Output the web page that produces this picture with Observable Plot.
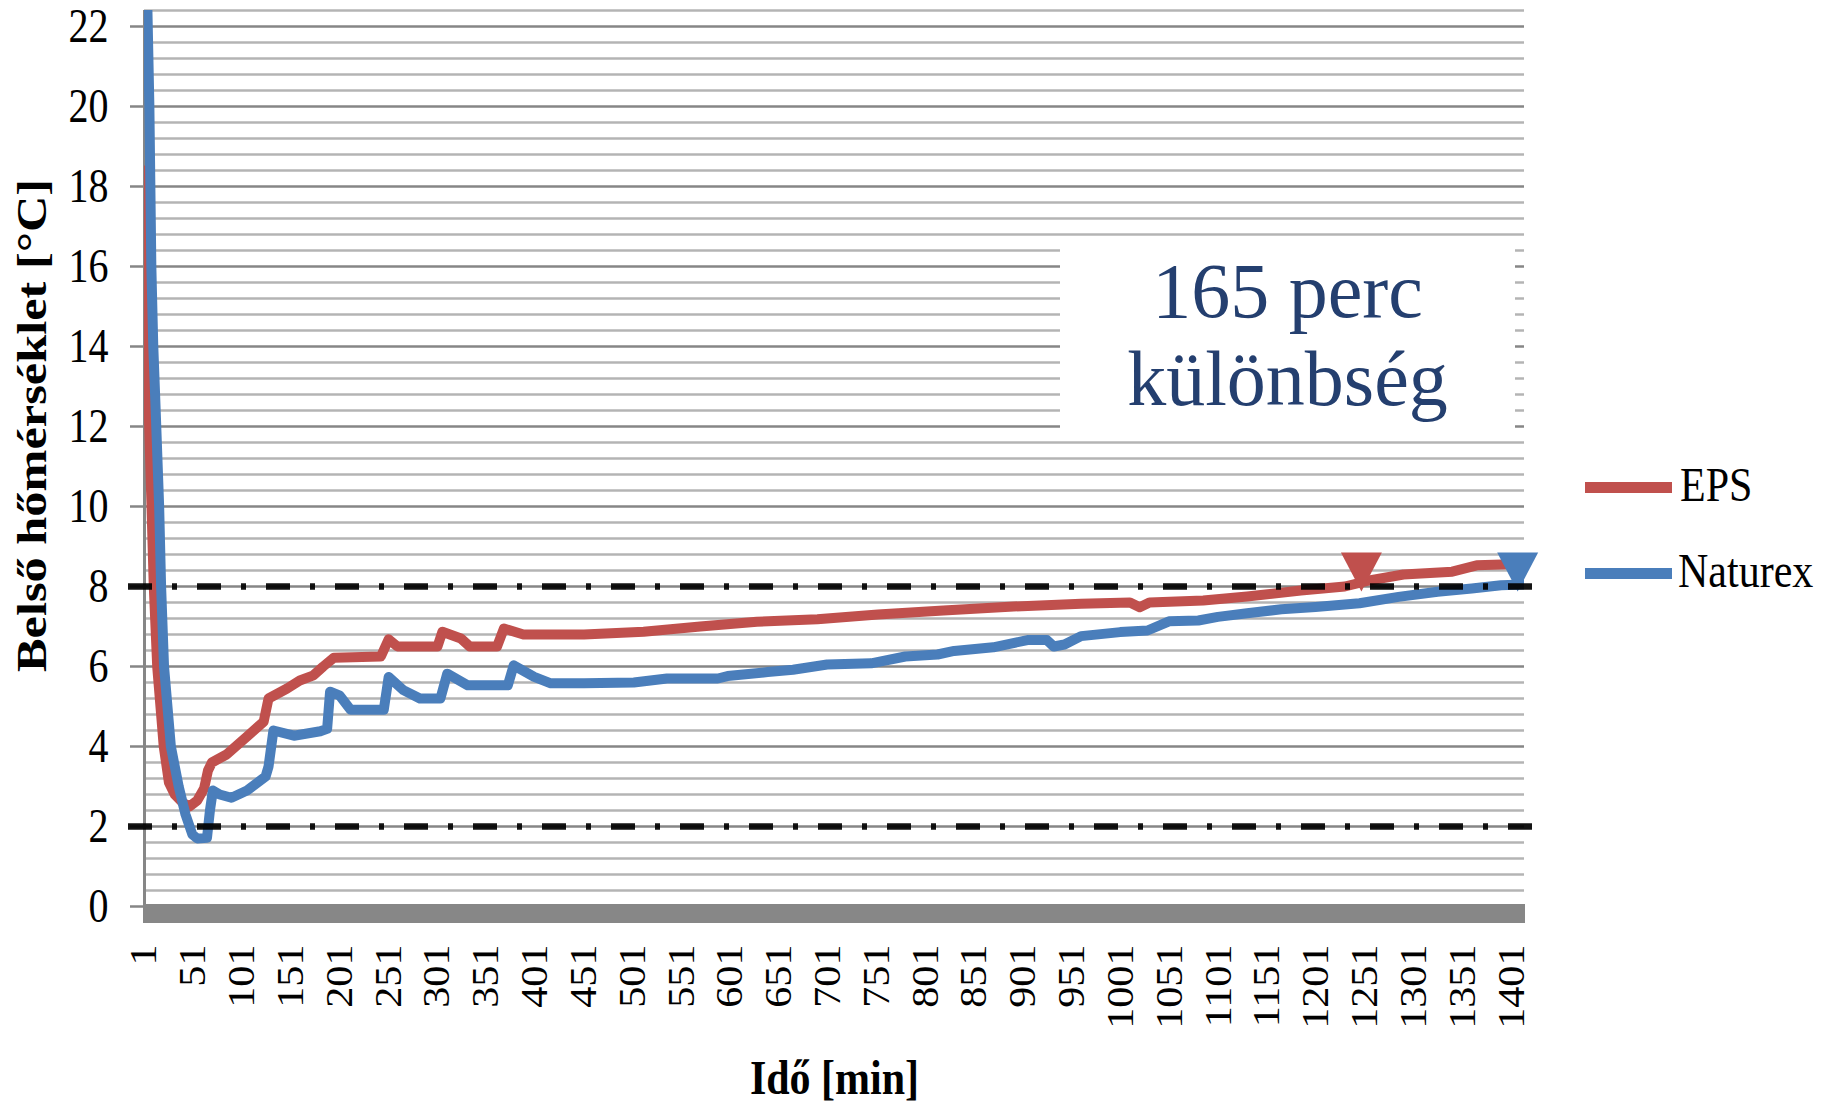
<!DOCTYPE html>
<html>
<head>
<meta charset="utf-8">
<script src="https://cdn.jsdelivr.net/npm/d3@7"></script>
<script src="https://cdn.jsdelivr.net/npm/@observablehq/plot@0.6"></script>
<style>
  html, body { margin: 0; padding: 0; background: #fff; }
  #wrap { position: relative; width: 1823px; height: 1104px; overflow: hidden; background: #fff; }
  #wrap svg { position: absolute; left: 0; top: 0; }
  .note { position: absolute; left: 1060px; top: 236px; width: 455px; height: 205px; background: #fff;
          color: #243F6F; font-family: "Liberation Serif", serif; font-size: 78px; line-height: 88px;
          text-align: center; box-sizing: border-box; padding-top: 11px; }
  .lg-line { position: absolute; height: 11px; width: 87px; left: 1585px; }
  .lg-text { position: absolute; font-family: "Liberation Serif", serif; font-size: 42px; color: #000;
             line-height: 42px; transform: scaleY(1.15); transform-origin: left center; }
</style>
</head>
<body>
<div id="wrap"></div>
<script>
// ---- data ----
const seriesNames = ["EPS", "Naturex"];
const seriesColors = ["#C0504D", "#4A7EBB"];

const minutesEPS = [1, 4, 7, 10.5, 14, 20.7, 26, 32, 40, 47, 55, 62, 66, 70, 85, 106, 123, 128, 147, 160, 174, 184, 195,
  243, 251, 260, 301, 306, 325, 334, 362, 369, 389, 451, 512, 570, 628, 690, 752, 819, 891, 960, 1010, 1020, 1030,
  1085, 1130, 1185, 1230, 1255, 1290, 1340, 1365, 1408];
const tempEPS = [18.4, 13.5, 11, 8, 6, 4, 3.1, 2.8, 2.6, 2.5, 2.65, 2.95, 3.4, 3.6, 3.8, 4.25, 4.62, 5.2, 5.45, 5.65, 5.78, 6.0, 6.22,
  6.25, 6.68, 6.5, 6.5, 6.87, 6.7, 6.5, 6.5, 6.95, 6.8, 6.8, 6.87, 7.0, 7.12, 7.18, 7.3, 7.4, 7.5, 7.57, 7.6, 7.48, 7.6,
  7.65, 7.75, 7.9, 8.0, 8.15, 8.3, 8.37, 8.53, 8.56];

const minutesNaturex = [4, 6, 8, 10, 12, 16, 18, 21, 28, 36, 43, 50, 55, 65, 68, 71, 78, 90, 106, 125, 128, 133, 154, 181, 188,
  191, 201, 212, 246, 251, 266, 283, 304, 311, 332, 373, 379, 400, 417, 451, 502, 536, 588, 598, 639, 665, 700, 745, 780,
  813, 830, 870, 905, 925, 932, 943, 960, 1000, 1028, 1050, 1080, 1100, 1130, 1165, 1200, 1245, 1285, 1325, 1360, 1390, 1413];
const tempNaturex = [22.4, 20, 16, 14, 12.7, 10, 8, 6, 4, 3.0, 2.3, 1.8, 1.7, 1.72, 2.4, 2.9, 2.8, 2.72, 2.9, 3.25, 3.5, 4.4, 4.27, 4.38, 4.44,
  5.37, 5.27, 4.92, 4.92, 5.74, 5.41, 5.2, 5.2, 5.82, 5.53, 5.53, 6.03, 5.74, 5.58, 5.58, 5.6, 5.7, 5.7, 5.76, 5.86, 5.92, 6.05, 6.08, 6.25,
  6.3, 6.39, 6.48, 6.66, 6.66, 6.5, 6.55, 6.76, 6.86, 6.9, 7.13, 7.15, 7.24, 7.33, 7.43, 7.49, 7.58, 7.74, 7.87, 7.95, 8.03, 8.05];

const markerMinutes = [1247, 1407];
const markerTemps = [8.36, 8.36];

const thresholds = [2, 8];
const xTicks = [1, 51, 101, 151, 201, 251, 301, 351, 401, 451, 501, 551, 601, 651, 701, 751, 801, 851, 901, 951,
  1001, 1051, 1101, 1151, 1201, 1251, 1301, 1351, 1401];
const yTicks = [0, 2, 4, 6, 8, 10, 12, 14, 16, 18, 20, 22];
const yMax = 22.4, yMinorStep = 0.4;
const xDomain = [1, 1414];

const xTitle = "Idő [min]";
const yTitle = "Belső hőmérséklet [°C]";
const noteLines = ["165 perc", "különbség"];

// ---- build tables ----
const rows = [
  ...minutesEPS.map((m, i) => ({series: "EPS", minute: m, temp: tempEPS[i]})),
  ...minutesNaturex.map((m, i) => ({series: "Naturex", minute: m, temp: tempNaturex[i]}))
];
const markers = seriesNames.map((s, i) => ({series: s, minute: markerMinutes[i], temp: markerTemps[i]}));
const minorTicks = d3.range(1, Math.round(yMax / yMinorStep) + 1).map(k => +(k * yMinorStep).toFixed(1))
  .filter(v => Math.abs(v / 2 - Math.round(v / 2)) > 1e-6);

const triangleDown = {
  draw(ctx, size) {
    const r = Math.sqrt(size / Math.PI);
    const h = r * 0.95;
    ctx.moveTo(-r, -h); ctx.lineTo(r, -h); ctx.lineTo(0, h); ctx.closePath();
  }
};

const serif = "Liberation Serif, Times New Roman, serif";

const chart = Plot.plot({
  width: 1823, height: 1104,
  marginLeft: 144, marginRight: 299, marginTop: 10, marginBottom: 198,
  style: {background: "transparent", color: "#000"},
  x: {type: "linear", domain: xDomain, axis: null},
  y: {domain: [0, yMax], axis: null},
  color: {domain: seriesNames, range: seriesColors},
  marks: [
    Plot.ruleY(minorTicks, {stroke: "#B4B4B4", strokeWidth: 2.5}),
    Plot.ruleY(yTicks, {stroke: "#868686", strokeWidth: 2.5, insetLeft: -14}),
    Plot.ruleX([xTicks[0]], {stroke: "#868686", strokeWidth: 3}),
    Plot.ruleY([0], {stroke: "#878787", strokeWidth: 19, dy: 7, insetLeft: -1, insetRight: -1}),
    Plot.line(rows, {x: "minute", y: "temp", z: "series", stroke: "series", strokeWidth: 10,
      strokeLinejoin: "round", clip: true}),
    Plot.dot(markers, {x: "minute", y: "temp", fill: "series", symbol: triangleDown, r: 20.5, stroke: null}),
    Plot.ruleY(thresholds, {stroke: "#000", strokeWidth: 6.5, strokeOpacity: 0.92, strokeDasharray: "24,20,5,20",
      insetLeft: -16, insetRight: -11}),
    Plot.axisY(yTicks, {tickSize: 0, tickPadding: 36, fontSize: 40, fontFamily: serif, fill: "#000",
      tickFormat: d => String(d), label: null}),
    Plot.axisX(xTicks, {tickSize: 0, tickPadding: 38, tickRotate: -90, fontSize: 37, fontFamily: serif, fill: "#000",
      tickFormat: d => String(d), label: null}),
    Plot.text([xTitle], {frameAnchor: "bottom", textAnchor: "middle", lineAnchor: "middle", dy: 172, fontSize: 42,
      fontWeight: "bold", fontFamily: serif, fill: "#000"}),
    Plot.text([yTitle], {frameAnchor: "left", textAnchor: "middle", lineAnchor: "middle", rotate: -90, dx: -112, dy: -33,
      fontSize: 42, fontWeight: "bold", fontFamily: serif, fill: "#000"})
  ]
});

// stretch the Times-like labels vertically, like the reference
function stretch(selector, sx, sy, match) {
  chart.querySelectorAll(selector).forEach(t => {
    if (match && t.textContent !== match) return;
    const tr = t.getAttribute("transform") || "";
    t.setAttribute("transform", `${tr} scale(${sx},${sy})`);
  });
}
stretch('[aria-label="y-axis tick label"] text', 1, 1.2);
stretch('[aria-label="x-axis tick label"] text', 1.14, 1);
stretch('text', 1, 1.18, xTitle);
stretch('text', 1.2, 1, yTitle);

const wrap = document.getElementById("wrap");
wrap.appendChild(chart);

// annotation box
const note = document.createElement("div");
note.className = "note";
note.innerHTML = noteLines.map(s => `<div>${s}</div>`).join("");
wrap.appendChild(note);

// legend
const legendTops = [487, 573];
const legendTextLeft = [1680, 1678];
seriesNames.forEach((s, i) => {
  const line = document.createElement("div");
  line.className = "lg-line";
  line.style.top = (legendTops[i] - 5.5) + "px";
  line.style.background = seriesColors[i];
  wrap.appendChild(line);
  const t = document.createElement("div");
  t.className = "lg-text";
  t.textContent = s;
  t.style.left = legendTextLeft[i] + "px";
  t.style.top = (legendTops[i] - 23) + "px";
  wrap.appendChild(t);
});
</script>
</body>
</html>
